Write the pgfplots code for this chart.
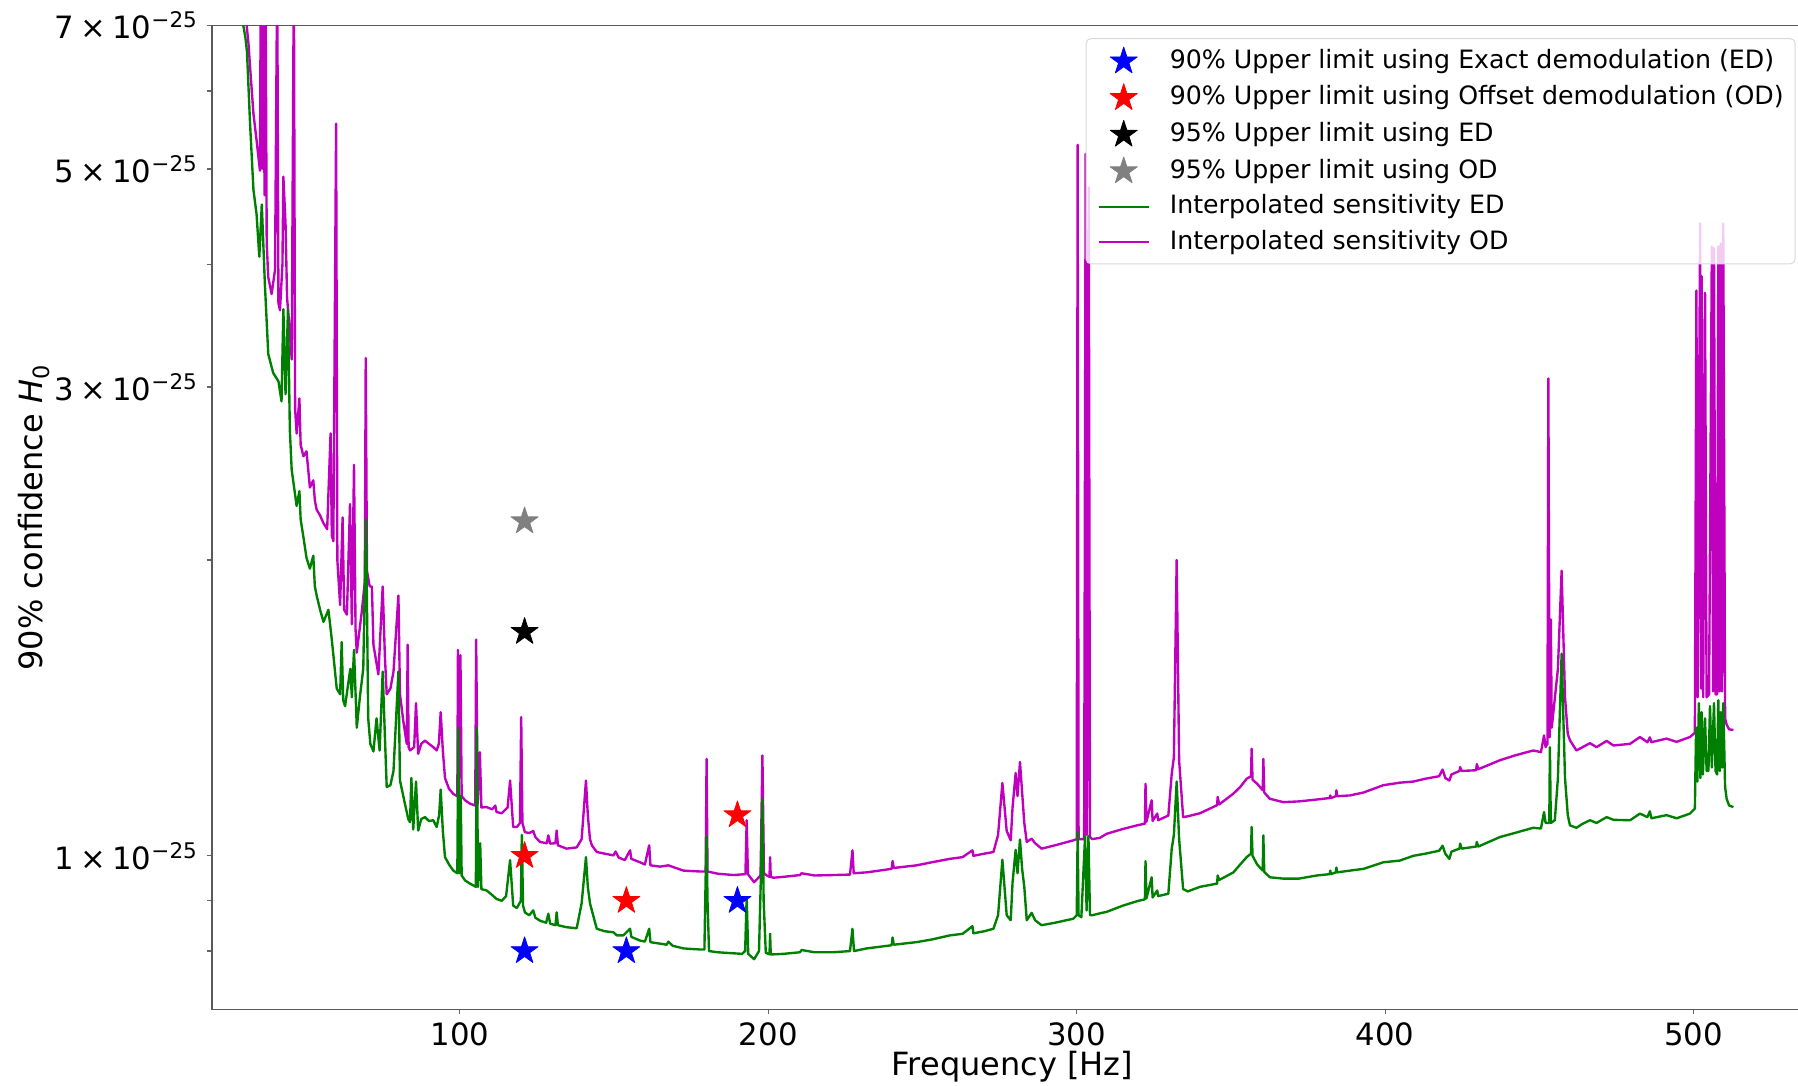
\documentclass[border=0pt]{standalone}
\usepackage{fontspec}
\setmainfont{DejaVu Sans}
\usepackage{pgfplots}
\pgfplotsset{compat=1.18}
\definecolor{mplgreen}{RGB}{0,128,0}
\definecolor{mplmag}{RGB}{191,0,191}
\definecolor{mplgray}{RGB}{128,128,128}
\pgfdeclareplotmark{fstar}{%
  \pgfpathmoveto{\pgfpointpolar{90}{\pgfplotmarksize}}%
  \pgfpathlineto{\pgfpointpolar{126}{0.382\pgfplotmarksize}}%
  \pgfpathlineto{\pgfpointpolar{162}{\pgfplotmarksize}}%
  \pgfpathlineto{\pgfpointpolar{198}{0.382\pgfplotmarksize}}%
  \pgfpathlineto{\pgfpointpolar{234}{\pgfplotmarksize}}%
  \pgfpathlineto{\pgfpointpolar{270}{0.382\pgfplotmarksize}}%
  \pgfpathlineto{\pgfpointpolar{306}{\pgfplotmarksize}}%
  \pgfpathlineto{\pgfpointpolar{342}{0.382\pgfplotmarksize}}%
  \pgfpathlineto{\pgfpointpolar{18}{\pgfplotmarksize}}%
  \pgfpathlineto{\pgfpointpolar{54}{0.382\pgfplotmarksize}}%
  \pgfpathclose
  \pgfusepathqfillstroke
}
\newcommand{\sci}[1]{#1\hspace{0.2em}×\hspace{0.2em}10\textsuperscript{−25}}
\begin{document}
\begin{tikzpicture}
\path[use as bounding box] (-84.8pt,-30.4pt) rectangle (634.4pt,403.6pt);
\clip (-84.8pt,-30.4pt) rectangle (634.4pt,403.6pt);
\begin{axis}[
  at={(0pt,0pt)}, anchor=south west,
  scale only axis, width=640.4pt, height=393.6pt,
  xmin=19.66, xmax=538.7,
  ymode=log, ymin=6.98e-26, ymax=7e-25,
  xtick={100,200,300,400,500},
  ytick={8e-26,9e-26,1e-25,2e-25,3e-25,4e-25,5e-25,6e-25,7e-25},
  yticklabels={,,\sci{1},,\sci{3},,\sci{5},,\sci{7}},
  minor ytick={},
  xtick pos=bottom, ytick pos=left,
  /pgf/number format/assume math mode=true,
  tick align=outside, major tick length=2pt,
  tick style={black!60, line width=0.5pt},
  axis line style={black!65, line width=0.6pt},
  ticklabel style={font=\fontsize{12.3}{14}\selectfont},
  label style={font=\fontsize{12.8}{15}\selectfont},
  xlabel={Frequency [Hz]},
  ylabel={90\% confidence \textit{H}\textsubscript{0}},
  xlabel style={at={(axis description cs:0.5,-0.0579)}, anchor=center},
  ylabel style={at={(axis description cs:-0.1112,0.5)}, anchor=center, rotate=0},
  legend image code/.code={\draw[mark repeat=2,mark phase=2,#1] plot coordinates {(0pt,0pt) (10pt,0pt) (20pt,0pt)};},
  legend cell align=left,
  legend style={at={(rel axis cs:0.9892,0.987)}, anchor=north east,
    draw=black!15, rounded corners=2pt, fill=white, fill opacity=0.8, text opacity=1, draw opacity=1,
    font=\fontsize{10.1}{12}\selectfont, inner xsep=4.6pt, inner ysep=3.4pt, row sep=3.7pt,
    nodes={inner sep=0pt, text height=8pt, text depth=2.5pt},
    /tikz/every odd column/.append style={column sep=8pt}},
  every axis plot/.append style={line join=round},
]
\addlegendimage{only marks, mark=fstar, mark size=5.7pt, blue, mark options={fill=blue, draw=blue, line width=0.3pt, fill opacity=1}}
\addlegendentry{90\% Upper limit using Exact demodulation (ED)}
\addlegendimage{only marks, mark=fstar, mark size=5.7pt, red, mark options={fill=red, draw=red, line width=0.3pt, fill opacity=1}}
\addlegendentry{90\% Upper limit using Offset demodulation (OD)}
\addlegendimage{only marks, mark=fstar, mark size=5.7pt, black, mark options={fill=black, draw=black, line width=0.3pt, fill opacity=1}}
\addlegendentry{95\% Upper limit using ED}
\addlegendimage{only marks, mark=fstar, mark size=5.7pt, mplgray, mark options={fill=mplgray, draw=mplgray, line width=0.3pt, fill opacity=1}}
\addlegendentry{95\% Upper limit using OD}
\addlegendimage{mplgreen, line width=0.9pt, no marks}
\addlegendentry{Interpolated sensitivity ED}
\addlegendimage{mplmag, line width=0.9pt, no marks}
\addlegendentry{Interpolated sensitivity OD}

% OD curve
\addplot[mplmag, line width=0.95pt, no marks, forget plot] table {
x y
20 3.0e-24
25 1.5e-24
29 9.0e-25
30.9 7.0e-25
31.5 6.7e-25
32.0 6.35e-25
33.1 5.69e-25
34.1 5.35e-25
35.2 4.98e-25
35.5 8e-25
35.9 5.0e-25
36.3 8e-25
36.7 4.7e-25
37.0 8e-25
37.4 4.2e-25
37.9 3.88e-25
39.0 3.73e-25
40.1 3.95e-25
40.8 8e-25
41.2 3.65e-25
41.7 3.59e-25
42.5 4.0e-25
42.8 4.91e-25
43.5 4.4e-25
44.0 3.7e-25
44.9 3.40e-25
45.5 3.20e-25
46.2 8e-25
46.6 2.85e-25
47.1 2.69e-25
48.0 2.92e-25
48.4 2.62e-25
49.3 2.55e-25
50.3 2.58e-25
51.4 2.37e-25
52.5 2.41e-25
53.0 2.30e-25
53.6 2.25e-25
54.7 2.22e-25
55.8 2.18e-25
57.0 2.15e-25
58.1 2.69e-25
58.5 2.12e-25
59.0 2.09e-25
59.9 5.56e-25
60.3 2.00e-25
61.2 1.80e-25
62.0 2.21e-25
62.5 1.78e-25
63.4 1.76e-25
64.4 2.28e-25
65.0 1.72e-25
65.7 2.50e-25
66.2 1.70e-25
66.6 1.61e-25
68.2 1.77e-25
69.2 1.90e-25
69.5 3.21e-25
69.9 1.95e-25
70.8 1.88e-25
71.5 1.88e-25
72.0 1.64e-25
73.6 1.53e-25
75.0 1.88e-25
75.7 1.60e-25
76.3 1.46e-25
77.5 1.48e-25
78.5 1.54e-25
80.1 1.84e-25
80.6 1.46e-25
81.7 1.37e-25
82.8 1.30e-25
83.1 1.64e-25
83.4 1.29e-25
83.85 1.28e-25
85.2 1.29e-25
85.8 1.43e-25
86.5 1.27e-25
87.5 1.30e-25
88.7 1.31e-25
90.0 1.30e-25
91.4 1.29e-25
92.5 1.28e-25
93.2 1.30e-25
93.8 1.40e-25
94.5 1.28e-25
95.2 1.20e-25
96.5 1.17e-25
97.9 1.156e-25
99.2 1.15e-25
99.4 1.62e-25
99.8 1.20e-25
100.2 1.60e-25
100.6 1.15e-25
101.7 1.139e-25
103.3 1.130e-25
105.0 1.125e-25
105.3 1.66e-25
105.8 1.130e-25
106.5 1.275e-25
107.0 1.120e-25
108.7 1.121e-25
110.5 1.115e-25
111.5 1.125e-25
111.9 1.108e-25
113.6 1.105e-25
115.5 1.120e-25
116.3 1.193e-25
117.3 1.070e-25
118.5 1.070e-25
119.5 1.080e-25
119.9 1.384e-25
120.3 1.080e-25
121.1 1.057e-25
122.5 1.055e-25
123.8 1.060e-25
124.5 1.045e-25
126.0 1.033e-25
128.2 1.030e-25
128.7 1.049e-25
129.3 1.029e-25
131.0 1.030e-25
131.4 1.061e-25
131.8 1.025e-25
134.6 1.017e-25
137.9 1.020e-25
139.5 1.040e-25
140.9 1.193e-25
141.5 1.100e-25
142.2 1.040e-25
142.8 1.025e-25
144.4 1.009e-25
147.0 1.005e-25
149.8 1.001e-25
150.5 1.010e-25
151.5 0.996e-25
153.5 0.990e-25
155.2 1.013e-25
155.6 0.993e-25
158.4 0.985e-25
160.0 0.980e-25
161.4 1.025e-25
161.8 0.978e-25
165.0 0.975e-25
167.6 0.978e-25
170.0 0.972e-25
172.5 0.966e-25
175.0 0.965e-25
177.9 0.964e-25
179.7 0.964e-25
180.0 1.255e-25
180.3 0.964e-25
183.6 0.959e-25
188.7 0.956e-25
192.6 0.958e-25
193.0 1.087e-25
193.4 0.958e-25
195.4 0.940e-25
197.5 0.955e-25
198.1 1.265e-25
198.6 0.960e-25
199.5 0.955e-25
200.4 0.952e-25
200.6 0.997e-25
200.8 0.952e-25
201.6 0.950e-25
205.0 0.952e-25
210.3 0.956e-25
210.8 0.960e-25
215.0 0.955e-25
221.1 0.956e-25
226.5 0.957e-25
227.3 1.013e-25
227.7 0.960e-25
231.9 0.962e-25
236.0 0.966e-25
240.0 0.970e-25
240.3 0.988e-25
240.7 0.972e-25
248.1 0.978e-25
253.0 0.985e-25
258.9 0.993e-25
263.0 0.997e-25
266.2 1.013e-25
266.5 1.000e-25
270.0 1.005e-25
273.0 1.009e-25
274.5 1.050e-25
275.9 1.186e-25
277.3 1.060e-25
278.6 1.037e-25
279.2 1.120e-25
280.2 1.214e-25
280.8 1.150e-25
281.6 1.246e-25
282.3 1.160e-25
283.0 1.080e-25
283.8 1.033e-25
285.4 1.041e-25
286.5 1.030e-25
288.6 1.017e-25
293.0 1.025e-25
298.9 1.037e-25
300.0 1.040e-25
300.3 5.29e-25
300.6 1.040e-25
302.4 1.040e-25
302.9 5.18e-25
303.3 1.050e-25
303.9 4.79e-25
304.3 1.045e-25
305.0 1.040e-25
307.5 1.043e-25
309.7 1.053e-25
315.0 1.065e-25
320.0 1.075e-25
322.1 1.078e-25
322.3 1.184e-25
322.6 1.083e-25
324.3 1.139e-25
324.6 1.085e-25
326.1 1.104e-25
326.4 1.087e-25
329.7 1.099e-25
330.8 1.212e-25
331.5 1.260e-25
332.4 2.00e-25
333.2 1.250e-25
334.5 1.095e-25
336.0 1.097e-25
340.0 1.105e-25
345.5 1.126e-25
345.7 1.148e-25
346.2 1.128e-25
350.8 1.157e-25
353.0 1.175e-25
355.1 1.198e-25
356.5 1.205e-25
356.7 1.285e-25
357.0 1.195e-25
358.5 1.184e-25
360.3 1.166e-25
360.5 1.255e-25
360.8 1.160e-25
362.6 1.143e-25
367.0 1.134e-25
372.0 1.136e-25
377.8 1.141e-25
382.0 1.145e-25
382.2 1.152e-25
382.4 1.145e-25
384.0 1.150e-25
384.2 1.166e-25
384.4 1.150e-25
388.6 1.152e-25
393.0 1.160e-25
399.4 1.180e-25
404.8 1.187e-25
409.1 1.190e-25
413.0 1.198e-25
417.5 1.205e-25
418.6 1.224e-25
419.5 1.200e-25
420.8 1.193e-25
421.5 1.210e-25
424.1 1.220e-25
424.3 1.231e-25
424.8 1.220e-25
429.5 1.222e-25
429.7 1.240e-25
430.2 1.225e-25
437.2 1.251e-25
442.0 1.265e-25
448.0 1.280e-25
450.5 1.275e-25
451.5 1.326e-25
452.0 1.290e-25
452.6 1.300e-25
452.9 3.06e-25
453.3 1.320e-25
453.7 1.74e-25
454.0 1.35e-25
456.0 1.55e-25
457.2 1.95e-25
458.3 1.45e-25
459.2 1.33e-25
459.9 1.311e-25
462.0 1.280e-25
464.0 1.290e-25
466.4 1.302e-25
468.5 1.290e-25
471.8 1.309e-25
474.0 1.295e-25
479.4 1.300e-25
482.6 1.321e-25
485.0 1.305e-25
485.8 1.320e-25
486.3 1.305e-25
491.2 1.316e-25
494.5 1.306e-25
498.8 1.321e-25
500.4 1.334e-25
500.9 3.76e-25
501.3 1.45e-25
502.1 4.40e-25
502.4 1.48e-25
502.6 3.89e-25
503.1 1.45e-25
503.7 3.74e-25
504.2 1.45e-25
505.0 1.46e-25
505.9 4.17e-25
506.3 1.47e-25
506.6 4.15e-25
507.1 1.46e-25
507.6 1.46e-25
508.0 4.17e-25
508.4 1.47e-25
508.8 4.20e-25
509.2 1.47e-25
509.6 4.40e-25
510.2 1.38e-25
510.7 1.36e-25
511.5 1.345e-25
512.9 1.343e-25
};

% ED curve
\addplot[mplgreen, line width=0.95pt, no marks, forget plot] table {
x y
20 2.5e-24
25 1.2e-24
28 8.5e-25
29.8 7.0e-25
30.5 6.8e-25
31 6.58e-25
32 5.56e-25
33.1 4.76e-25
34.1 4.50e-25
35.0 4.07e-25
35.8 4.6e-25
36.8 3.82e-25
37.9 3.24e-25
39.5 3.10e-25
41.2 3.04e-25
42.2 2.90e-25
42.8 3.6e-25
43.5 2.95e-25
44.3 3.6e-25
44.9 2.71e-25
45.5 2.47e-25
47.1 2.27e-25
48.0 2.35e-25
48.4 2.20e-25
49.3 2.11e-25
50.3 2.01e-25
51.4 1.96e-25
52.5 2.02e-25
53.0 1.88e-25
53.6 1.84e-25
54.7 1.78e-25
55.8 1.73e-25
57.4 1.78e-25
58.5 1.66e-25
60.1 1.48e-25
61.2 1.46e-25
61.7 1.65e-25
62.2 1.44e-25
62.8 1.42e-25
64.5 1.55e-25
65.0 1.45e-25
65.7 1.62e-25
66.6 1.35e-25
67.6 1.45e-25
68.7 1.55e-25
69.6 2.20e-25
70.3 1.38e-25
71.0 1.30e-25
72.0 1.277e-25
73.0 1.38e-25
74.0 1.28e-25
75.0 1.54e-25
75.8 1.30e-25
76.3 1.175e-25
77.5 1.18e-25
78.5 1.22e-25
80.1 1.54e-25
80.6 1.193e-25
82.2 1.13e-25
83.3 1.09e-25
83.85 1.082e-25
84.3 1.20e-25
84.9 1.064e-25
85.8 1.19e-25
86.5 1.061e-25
87.5 1.09e-25
88.7 1.095e-25
90.0 1.085e-25
91.4 1.087e-25
92.5 1.070e-25
93.3 1.10e-25
93.8 1.168e-25
94.5 1.06e-25
95.2 0.997e-25
96.5 0.980e-25
97.9 0.966e-25
99.2 0.960e-25
99.5 1.35e-25
99.8 0.960e-25
100.3 1.15e-25
100.6 0.955e-25
101.7 0.944e-25
103.3 0.937e-25
105.2 0.930e-25
105.5 1.35e-25
105.9 0.930e-25
106.6 1.03e-25
107.0 0.925e-25
108.7 0.922e-25
110.0 0.915e-25
111.9 0.904e-25
113.6 0.900e-25
115.0 0.910e-25
116.3 0.990e-25
117.3 0.890e-25
118.5 0.885e-25
119.8 0.900e-25
120.1 1.05e-25
120.5 0.890e-25
121.1 0.876e-25
122.5 0.870e-25
123.8 0.880e-25
124.5 0.865e-25
126.0 0.859e-25
128.0 0.855e-25
128.7 0.873e-25
129.3 0.853e-25
131.0 0.850e-25
131.4 0.876e-25
131.8 0.850e-25
134.6 0.846e-25
137.9 0.844e-25
139.5 0.895e-25
140.9 0.997e-25
141.5 0.930e-25
142.2 0.895e-25
142.8 0.880e-25
144.4 0.843e-25
147.0 0.838e-25
149.8 0.836e-25
150.9 0.830e-25
153.0 0.830e-25
155.2 0.843e-25
155.6 0.827e-25
158.4 0.820e-25
160.0 0.818e-25
161.4 0.843e-25
161.8 0.817e-25
162.7 0.816e-25
165.0 0.814e-25
167.1 0.812e-25
167.6 0.818e-25
169.0 0.810e-25
172.5 0.805e-25
175.0 0.804e-25
177.9 0.803e-25
179.3 0.803e-25
179.7 0.950e-25
180.0 1.047e-25
180.3 0.900e-25
180.8 0.800e-25
183.6 0.798e-25
186.0 0.797e-25
188.7 0.796e-25
191.5 0.795e-25
192.5 0.800e-25
193.0 0.908e-25
193.5 0.795e-25
195.4 0.785e-25
197.0 0.800e-25
197.6 0.950e-25
198.1 1.143e-25
198.5 0.900e-25
199.2 0.797e-25
200.4 0.794e-25
200.6 0.833e-25
200.8 0.794e-25
201.6 0.794e-25
205.0 0.795e-25
210.3 0.798e-25
210.8 0.802e-25
215.0 0.798e-25
221.1 0.798e-25
226.5 0.800e-25
227.3 0.843e-25
227.8 0.800e-25
231.9 0.805e-25
236.0 0.808e-25
240.0 0.811e-25
240.3 0.826e-25
240.7 0.812e-25
248.1 0.817e-25
253.0 0.822e-25
258.9 0.830e-25
263.0 0.833e-25
266.2 0.848e-25
266.5 0.834e-25
270.0 0.838e-25
273.0 0.843e-25
274.5 0.870e-25
275.9 0.991e-25
277.3 0.870e-25
278.6 0.860e-25
279.2 0.940e-25
280.2 1.014e-25
280.8 0.960e-25
281.6 1.039e-25
282.3 0.970e-25
283.0 0.930e-25
283.8 0.860e-25
285.4 0.875e-25
286.5 0.860e-25
288.6 0.850e-25
293.0 0.855e-25
298.9 0.863e-25
300.0 0.870e-25
300.3 1.057e-25
300.6 0.870e-25
301.5 0.866e-25
302.7 1.047e-25
303.2 0.880e-25
303.8 1.047e-25
304.3 0.870e-25
305.0 0.870e-25
307.5 0.874e-25
309.7 0.877e-25
315.0 0.890e-25
320.0 0.900e-25
322.1 0.903e-25
322.3 0.988e-25
322.6 0.905e-25
324.3 0.951e-25
324.6 0.907e-25
326.1 0.922e-25
326.4 0.910e-25
329.7 0.915e-25
330.8 1.017e-25
331.5 1.05e-25
332.4 1.19e-25
333.2 1.04e-25
334.5 0.925e-25
336.0 0.920e-25
340.0 0.930e-25
345.5 0.937e-25
345.7 0.955e-25
346.2 0.945e-25
350.8 0.962e-25
353.0 0.980e-25
355.1 0.997e-25
356.5 1.005e-25
356.7 1.070e-25
357.0 1.000e-25
358.5 0.980e-25
360.3 0.966e-25
360.5 1.049e-25
360.8 0.963e-25
362.6 0.951e-25
367.0 0.948e-25
372.0 0.948e-25
377.8 0.955e-25
382.0 0.958e-25
382.2 0.966e-25
382.4 0.958e-25
384.0 0.962e-25
384.2 0.973e-25
384.4 0.962e-25
388.6 0.966e-25
393.0 0.970e-25
399.4 0.985e-25
404.8 0.989e-25
409.1 1.000e-25
413.0 1.005e-25
417.5 1.012e-25
418.6 1.024e-25
419.5 1.005e-25
420.8 0.993e-25
421.5 1.010e-25
424.1 1.017e-25
424.3 1.029e-25
424.8 1.017e-25
429.5 1.022e-25
429.7 1.033e-25
430.2 1.022e-25
437.2 1.045e-25
442.0 1.055e-25
448.0 1.068e-25
450.5 1.066e-25
451.5 1.108e-25
452.0 1.080e-25
453.2 1.080e-25
453.4 1.29e-25
453.7 1.080e-25
455.0 1.087e-25
456.0 1.20e-25
457.2 1.606e-25
458.3 1.20e-25
459.2 1.10e-25
459.9 1.074e-25
462.0 1.068e-25
464.0 1.078e-25
466.4 1.087e-25
468.5 1.080e-25
471.8 1.095e-25
474.0 1.088e-25
479.4 1.087e-25
482.6 1.104e-25
485.0 1.095e-25
485.8 1.110e-25
486.3 1.092e-25
491.2 1.100e-25
494.5 1.092e-25
498.8 1.104e-25
500.4 1.117e-25
500.8 1.35e-25
501.2 1.19e-25
501.7 1.43e-25
502.2 1.20e-25
502.6 1.40e-25
503.0 1.21e-25
503.7 1.38e-25
504.2 1.22e-25
504.8 1.22e-25
505.3 1.42e-25
505.9 1.23e-25
506.6 1.43e-25
507.1 1.22e-25
507.6 1.21e-25
508.0 1.44e-25
508.5 1.22e-25
508.8 1.40e-25
509.3 1.23e-25
509.6 1.43e-25
510.2 1.175e-25
510.7 1.143e-25
511.5 1.125e-25
512.9 1.121e-25
};

% Upper limits
\addplot[only marks, mark=fstar, mark size=5.7pt, blue, mark options={fill=blue, draw=blue, line width=0.3pt}, forget plot] coordinates {(121,0.80e-25) (154,0.80e-25) (190,0.90e-25)};
\addplot[only marks, mark=fstar, mark size=5.7pt, red, mark options={fill=red, draw=red, line width=0.3pt}, forget plot] coordinates {(121,1.00e-25) (154,0.90e-25) (190,1.10e-25)};
\addplot[only marks, mark=fstar, mark size=5.7pt, black, mark options={fill=black, draw=black, line width=0.3pt}, forget plot] coordinates {(121,1.69e-25)};
\addplot[only marks, mark=fstar, mark size=5.7pt, mplgray, mark options={fill=mplgray, draw=mplgray, line width=0.3pt}, forget plot] coordinates {(121,2.19e-25)};
\end{axis}
\end{tikzpicture}
\end{document}
